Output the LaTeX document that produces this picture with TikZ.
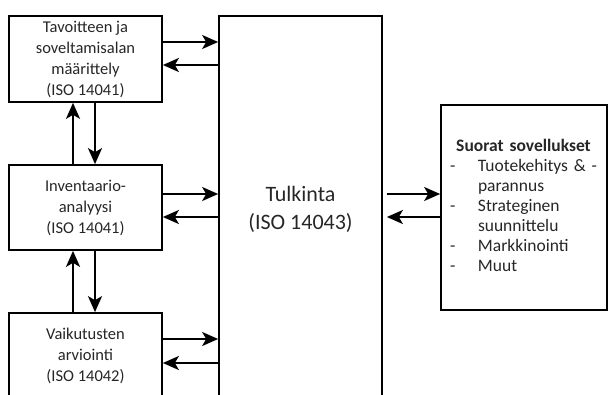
\documentclass[tikz,border=0pt]{standalone}
\usepackage{fontspec}
\setmainfont{Carlito}
\usepackage{tikz}
\usetikzlibrary{arrows.meta}

\begin{document}
\begin{tikzpicture}[
  x=1pt,y=-1pt,
  font=\fontsize{16.5}{21}\selectfont,
  arrow/.style={-{Stealth[length=16pt,width=14pt,inset=4pt]},line width=2pt,draw=black},
  phasebox/.style={draw=black,line width=1.7pt,align=center,text=black!85,
    minimum width=153,minimum height=86,inner sep=2pt},
  bigbox/.style={draw=black,line width=1.7pt,align=center,text=black!85}
]
\useasboundingbox (0,0) rectangle (609,395);
\clip (0,0) rectangle (609,395);

% Phases of the assessment, left column.
\node[phasebox] (goal) at (85.5,59) {Tavoitteen ja\\soveltamisalan\\määrittely\\(ISO 14041)};
\node[phasebox,minimum height=85] (inventory) at (85.5,207.5) {Inventaario-\\analyysi\\(ISO 14041)};
\node[phasebox] (impact) at (85.5,356) {Vaikutusten\\arviointi\\(ISO 14042)};

% Interpretation and its applications.
\node[bigbox,minimum width=163,minimum height=386,
  font=\fontsize{22}{28}\selectfont] (interp) at (300.5,209) {Tulkinta\\(ISO 14043)};
\node[bigbox,minimum width=166,minimum height=205,inner xsep=9pt,inner ysep=0pt,
  text width=148pt,align=left,
  font=\fontsize{17.5}{20}\selectfont] (apps) at (524,207.5) {%
  \begin{tabular}{@{}p{28pt}@{}l@{}}
  \multicolumn{2}{c}{\textbf{Suorat sovellukset}}\\
  - & Tuotekehitys \& -\\
    & parannus\\
  - & Strateginen\\
    & suunnittelu\\
  - & Markkinointi\\
  - & Muut
  \end{tabular}};

% Two-way links to the interpretation.
\draw[arrow] ([yshift=17]goal.east) -- ([yshift=17]goal.east -| interp.west);
\draw[arrow] ([yshift=-6]goal.east -| interp.west) -- ([yshift=-6]goal.east);
\draw[arrow] ([yshift=13.5]inventory.east) -- ([yshift=13.5]inventory.east -| interp.west);
\draw[arrow] ([yshift=-9.5]inventory.east -| interp.west) -- ([yshift=-9.5]inventory.east);
\draw[arrow] ([yshift=17]impact.east) -- ([yshift=17]impact.east -| interp.west);
\draw[arrow] ([yshift=-7]impact.east -| interp.west) -- ([yshift=-7]impact.east);
\draw[arrow,shorten <=4pt] ([yshift=13.5]interp.east |- apps.west) -- ([yshift=13.5]apps.west);
\draw[arrow,shorten >=4pt] ([yshift=-9.5]apps.west) -- ([yshift=-9.5]interp.east |- apps.west);

% Iteration between the phases.
\draw[arrow] ([xshift=-12.5]inventory.north) -- ([xshift=-12.5]goal.south);
\draw[arrow] ([xshift=9.5]goal.south) -- ([xshift=9.5]inventory.north);
\draw[arrow] ([xshift=-12.5]impact.north) -- ([xshift=-12.5]inventory.south);
\draw[arrow] ([xshift=9.5]inventory.south) -- ([xshift=9.5]impact.north);
\end{tikzpicture}
\end{document}
